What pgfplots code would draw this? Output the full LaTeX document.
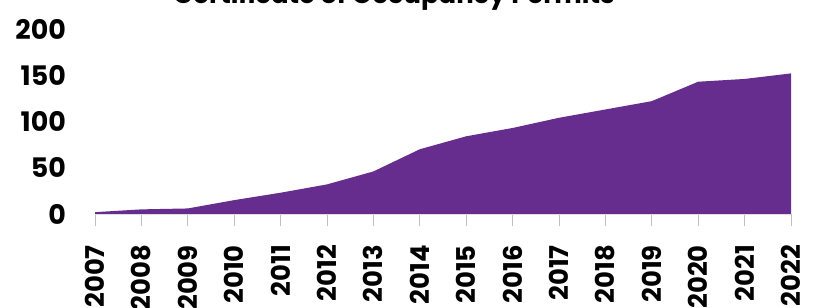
\documentclass[border=0pt]{standalone}
\usepackage{pgfplots}
\pgfplotsset{compat=1.18}
\usepackage{fontspec}
\setmainfont{Poppins}
\definecolor{fillpurple}{RGB}{102,45,143}
\begin{document}
\begin{tikzpicture}[x=1bp,y=1bp]
\begin{axis}[
  at={(95bp,94bp)}, anchor=south west,
  scale only axis, width=696bp, height=185bp,
  xmin=2007, xmax=2022, ymin=0, ymax=200,
  xtick={2007,2008,...,2022}, ytick={0,50,...,200},
  axis x line*=bottom, axis y line*=left,
  axis line style={-},
  x axis line style={draw=gray!25, line width=1bp},
  y axis line style={draw=none},
  ytick style={draw=none},
  xtick style={draw=gray!50, line width=0.8bp},
  tick align=outside, major tick length=12bp,
  /pgf/number format/assume math mode=true,
  /pgf/number format/1000 sep={},
  xticklabel style={rotate=90, anchor=east, inner sep=0pt, xshift=-19bp, font=\bfseries\fontsize{26}{26}\selectfont},
  yticklabel style={anchor=east, inner sep=0pt, xshift=-17bp, font=\bfseries\fontsize{27}{27}\selectfont},
]
\addplot[fill=fillpurple, draw=none] coordinates {
(2007,2) (2008,5) (2009,6) (2010,15) (2011,23) (2012,32) (2013,46) (2014,70)
(2015,84) (2016,93) (2017,104) (2018,113) (2019,122) (2020,143) (2021,146) (2022,152)
} \closedcycle;
\end{axis}
\node[anchor=base, font=\bfseries\fontsize{26}{26}\selectfont] at (394bp,304bp) {Certificate of Occupancy Permits};
\pgfresetboundingbox
\useasboundingbox (0,0) rectangle (817bp,308bp);
\end{tikzpicture}
\end{document}
